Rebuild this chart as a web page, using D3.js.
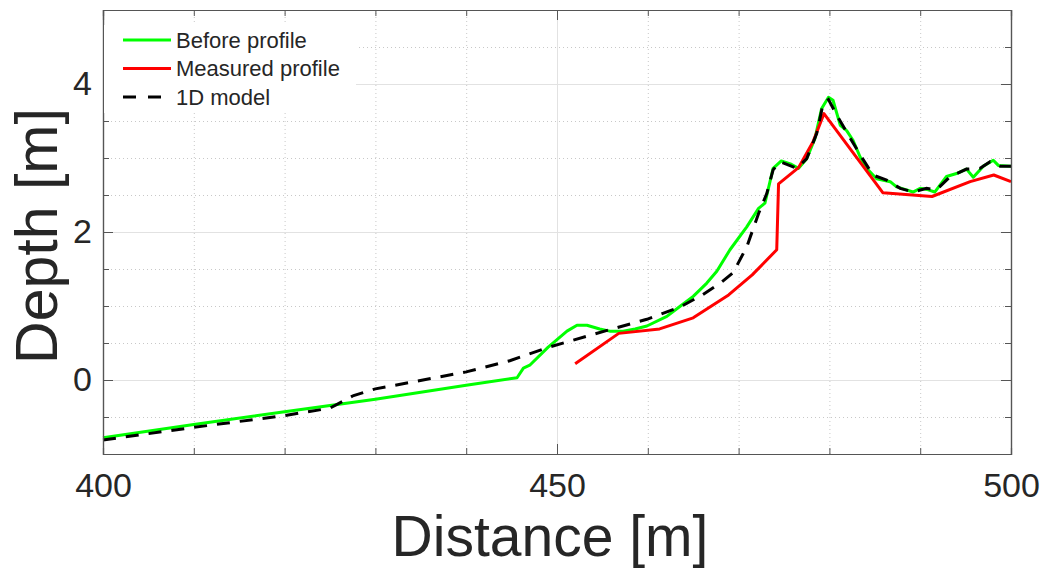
<!DOCTYPE html>
<html>
<head>
<meta charset="utf-8">
<script src="https://cdn.jsdelivr.net/npm/d3@7"></script>
<style>
  body { margin: 0; background: #fff; }
  text { font-family: "Liberation Sans", Arial, Helvetica, sans-serif; fill: #262626; }
</style>
</head>
<body>
<div id="chart"></div>
<script>
// Data: distance [m], depth [m]
var beforeX = [400, 410, 420, 430, 440, 445.6, 446.3, 447.0, 449.0, 451.1, 452.2, 453.3, 454.7, 455.8, 457.3, 458.6, 459.9, 462.1, 463.6, 465.0, 466.5, 467.6, 469.05, 470.9, 472.2, 472.9, 473.8, 474.7, 475.7, 476.6, 477.5, 478.4, 479.15, 479.9, 480.4, 481.2, 481.9, 482.6, 483.4, 484.1, 485.2, 486.7, 487.4, 488.5, 489.2, 490.0, 490.9, 491.6, 492.9, 494.0, 495.1, 495.85, 496.95, 498.05, 498.6, 500];
var beforeY = [-0.78, -0.60, -0.43, -0.26, -0.07, 0.03, 0.16, 0.20, 0.44, 0.66, 0.74, 0.74, 0.69, 0.66, 0.66, 0.69, 0.73, 0.86, 1.00, 1.13, 1.31, 1.47, 1.76, 2.07, 2.32, 2.39, 2.86, 2.96, 2.92, 2.86, 2.99, 3.26, 3.67, 3.82, 3.78, 3.44, 3.37, 3.24, 3.01, 2.86, 2.72, 2.68, 2.61, 2.57, 2.54, 2.59, 2.57, 2.54, 2.75, 2.79, 2.85, 2.74, 2.89, 2.97, 2.90, 2.89];

var measuredX = [452.0, 456.8, 461.3, 465.0, 468.9, 471.5, 474.2, 474.4, 476.6, 478.2, 479.4, 485.9, 491.3, 495.5, 498.1, 500];
var measuredY = [0.22, 0.63, 0.69, 0.84, 1.15, 1.42, 1.76, 2.65, 2.87, 3.22, 3.60, 2.53, 2.48, 2.68, 2.77, 2.68];

var modelX = [400, 410, 420, 425, 427.6, 430, 440, 444.8, 449.0, 455.8, 459.9, 463.6, 466.0, 468.0, 469.4, 470.9, 472.2, 473.1, 473.8, 474.6, 476.4, 477.5, 478.6, 479.3, 479.9, 480.8, 481.9, 483.4, 484.8, 486.3, 487.8, 489.2, 490.7, 491.8, 493.3, 495.1, 496.6, 497.7, 498.8, 500];
var modelY = [-0.81, -0.64, -0.48, -0.38, -0.21, -0.12, 0.11, 0.26, 0.44, 0.68, 0.82, 0.99, 1.15, 1.31, 1.45, 1.80, 2.25, 2.52, 2.84, 2.95, 2.86, 2.99, 3.33, 3.73, 3.79, 3.58, 3.35, 3.04, 2.77, 2.70, 2.59, 2.54, 2.59, 2.57, 2.75, 2.85, 2.86, 2.95, 2.89, 2.89];

var xMajorTicks = [400, 450, 500];
var xMinorTicks = [400, 410, 420, 430, 440, 450, 460, 470, 480, 490, 500];
var yMajorTicks = [0, 2, 4];
var yMinorTicks = [-1, -0.5, 0, 0.5, 1, 1.5, 2, 2.5, 3, 3.5, 4, 4.5, 5];

var legendNames = ["Before profile", "Measured profile", "1D model"];

// SVG Dimensions
var svgWidth = 1041;
var svgHeight = 577;

var margin = { top: 10, right: 30, bottom: 123, left: 103 };
var width = svgWidth - margin.left - margin.right;
var height = svgHeight - margin.top - margin.bottom;

var svg = d3.select("#chart")
  .append("svg")
  .attr("width", svgWidth)
  .attr("height", svgHeight);

var chart = svg.append("g")
  .attr("transform", `translate(${margin.left}, ${margin.top})`);

// Scales
var x = d3.scaleLinear().domain([400, 500]).range([0, width]);
var y = d3.scaleLinear().domain([-1, 5]).range([height, 0]);

// Minor grid (dotted)
chart.append("g")
  .attr("class", "grid")
  .attr("transform", `translate(0,${height})`)
  .call(d3.axisBottom(x).tickValues(xMinorTicks.filter(v => xMajorTicks.indexOf(v) < 0)).tickSize(-height).tickFormat(""))
  .call(g => g.select(".domain").remove())
  .selectAll("line").attr("stroke", "#c8c8c8").attr("stroke-dasharray", "1,3");

chart.append("g")
  .attr("class", "grid")
  .call(d3.axisLeft(y).tickValues(yMinorTicks.filter(v => yMajorTicks.indexOf(v) < 0)).tickSize(-width).tickFormat(""))
  .call(g => g.select(".domain").remove())
  .selectAll("line").attr("stroke", "#c8c8c8").attr("stroke-dasharray", "1,3");

// Major grid (solid)
chart.append("g")
  .attr("transform", `translate(0,${height})`)
  .call(d3.axisBottom(x).tickValues(xMajorTicks).tickSize(-height).tickFormat(""))
  .call(g => g.select(".domain").remove())
  .selectAll("line").attr("stroke", "#e2e2e2");

chart.append("g")
  .call(d3.axisLeft(y).tickValues(yMajorTicks).tickSize(-width).tickFormat(""))
  .call(g => g.select(".domain").remove())
  .selectAll("line").attr("stroke", "#e2e2e2");

// Lines
var line = d3.line()
  .x(d => x(d[0]))
  .y(d => y(d[1]));

var beforeData = d3.zip(beforeX, beforeY);
var measuredData = d3.zip(measuredX, measuredY);
var modelData = d3.zip(modelX, modelY);

chart.append("path")
  .datum(beforeData)
  .attr("d", line)
  .attr("fill", "none")
  .attr("stroke", "#00ff00")
  .attr("stroke-width", 3)
  .attr("stroke-linejoin", "round");

chart.append("path")
  .datum(measuredData)
  .attr("d", line)
  .attr("fill", "none")
  .attr("stroke", "#ff0000")
  .attr("stroke-width", 3)
  .attr("stroke-linejoin", "round");

chart.append("path")
  .datum(modelData)
  .attr("d", line)
  .attr("fill", "none")
  .attr("stroke", "#000")
  .attr("stroke-width", 3)
  .attr("stroke-dasharray", "13,10");

// Axes with inward ticks, box on
function styleAxis(g) {
  g.selectAll("line").attr("stroke", "#555");
  g.select(".domain").attr("stroke", "#555").attr("stroke-width", 1.2);
}

chart.append("g")
  .attr("transform", `translate(0,${height})`)
  .call(d3.axisBottom(x).tickValues(xMinorTicks).tickSize(-6).tickFormat(""))
  .call(styleAxis);

chart.append("g")
  .attr("transform", `translate(0,${height})`)
  .call(d3.axisBottom(x).tickValues(xMajorTicks).tickSizeInner(-10).tickSizeOuter(0).tickPadding(19).tickFormat(d3.format("d")))
  .call(styleAxis)
  .selectAll("text").attr("font-size", "34px").attr("fill", "#262626");

chart.append("g")
  .call(d3.axisTop(x).tickValues(xMinorTicks).tickSize(-6).tickFormat(""))
  .call(styleAxis);
chart.append("g")
  .call(d3.axisTop(x).tickValues(xMajorTicks).tickSize(-10).tickFormat(""))
  .call(styleAxis);

chart.append("g")
  .call(d3.axisLeft(y).tickValues(yMinorTicks).tickSize(-6).tickFormat(""))
  .call(styleAxis);

chart.append("g")
  .call(d3.axisLeft(y).tickValues(yMajorTicks).tickSizeInner(-10).tickSizeOuter(0).tickPadding(11).tickFormat(d3.format("d")))
  .call(styleAxis)
  .selectAll("text").attr("font-size", "34px").attr("fill", "#262626");

chart.append("g")
  .attr("transform", `translate(${width},0)`)
  .call(d3.axisRight(y).tickValues(yMinorTicks).tickSize(-6).tickFormat(""))
  .call(styleAxis);
chart.append("g")
  .attr("transform", `translate(${width},0)`)
  .call(d3.axisRight(y).tickValues(yMajorTicks).tickSize(-10).tickFormat(""))
  .call(styleAxis);

// Legend
var legend = chart.append("g").attr("transform", "translate(1, 15)");

legend.append("rect")
  .attr("width", 252)
  .attr("height", 88)
  .attr("fill", "#fff");

var legendStyles = [
  { color: "#00ff00", dash: null },
  { color: "#ff0000", dash: null },
  { color: "#000", dash: "13,12" }
];

legendNames.forEach(function (name, i) {
  var row = legend.append("g").attr("transform", `translate(0, ${15 + i * 28.5})`);
  row.append("line")
    .attr("x1", 19).attr("x2", 67)
    .attr("y1", 0).attr("y2", 0)
    .attr("stroke", legendStyles[i].color)
    .attr("stroke-width", 3)
    .attr("stroke-dasharray", legendStyles[i].dash);
  row.append("text")
    .attr("x", 72)
    .attr("y", 7.5)
    .attr("font-size", "22px")
    .text(name);
});

// Axis labels
svg.append("text")
  .attr("x", 550)
  .attr("y", 556)
  .attr("text-anchor", "middle")
  .attr("font-size", "57px")
  .text("Distance [m]");

svg.append("text")
  .attr("transform", "translate(57, 236) rotate(-90)")
  .attr("text-anchor", "middle")
  .attr("font-size", "59px")
  .text("Depth [m]");
</script>
</body>
</html>
